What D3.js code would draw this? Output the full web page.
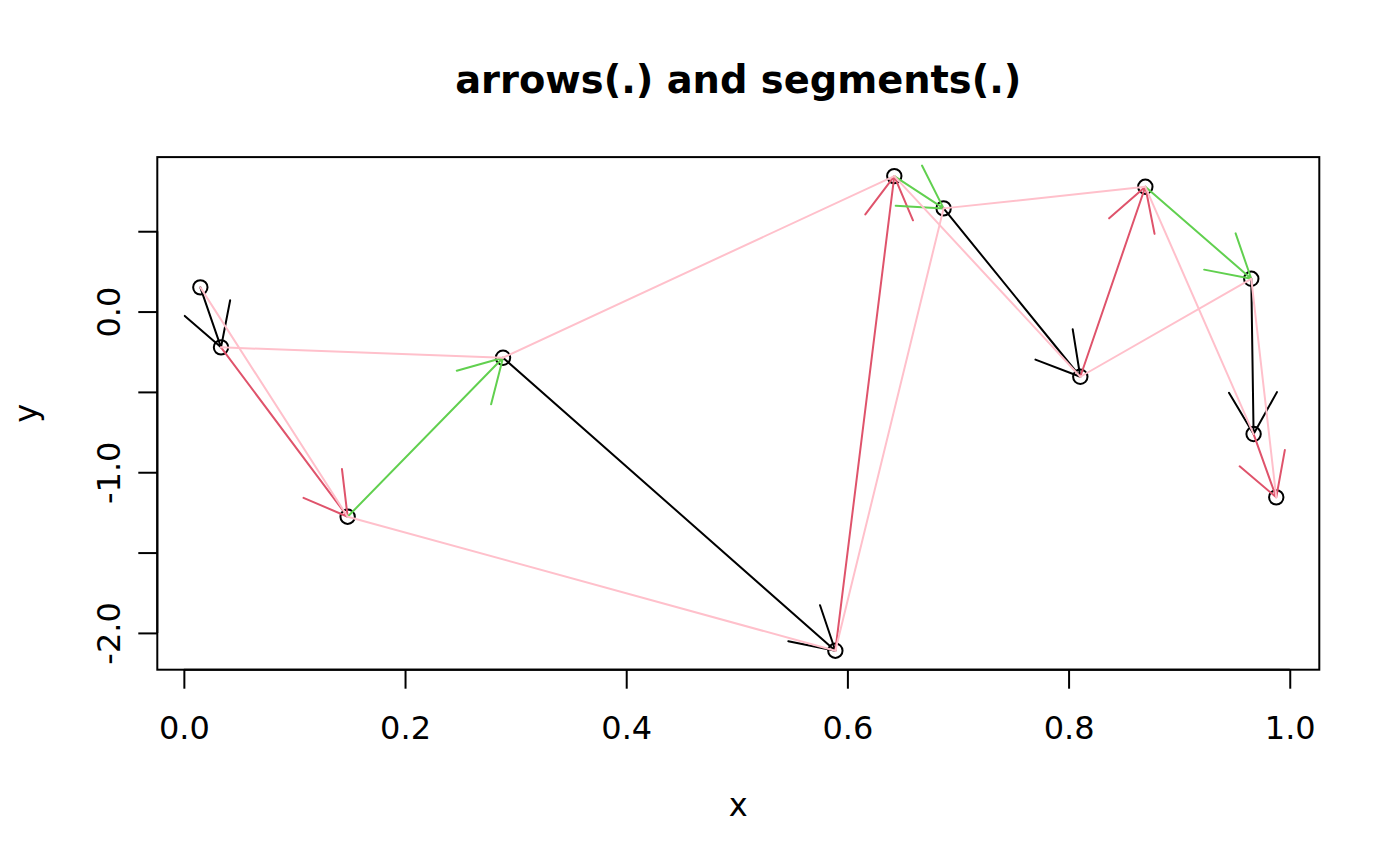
<!DOCTYPE html>
<html>
<head>
<meta charset="utf-8">
<script src="https://cdn.jsdelivr.net/npm/d3@7"></script>
<style>
  html, body { margin: 0; padding: 0; background: #fff; }
  svg { display: block; }
  text { font-family: "DejaVu Sans", sans-serif; fill: #000; }
</style>
</head>
<body>
<svg id="chart" width="1400" height="866"></svg>
<script>
// ---- data ----
const xs = [0.0149, 0.0336, 0.1481, 0.2886, 0.5891, 0.6424, 0.6870, 0.8106, 0.8694, 0.9652, 0.9673, 0.9878];
const ys = [0.1506, -0.2228, -1.2769, -0.2875, -2.1108, 0.8432, 0.6422, -0.4057, 0.7766, 0.2041, -0.7623, -1.1562];
const arrowColors = ["#000000", "#DF536B", "#61D04F"];   // col = 1:3 (recycled)
const segmentColor = "#FFC0CB";                            // 'pink'
const xTicks = [0, 0.2, 0.4, 0.6, 0.8, 1.0];
const xTickLabels = ["0.0", "0.2", "0.4", "0.6", "0.8", "1.0"];
const yTicks = [-2, -1.5, -1, -0.5, 0, 0.5];
const yTickLabels = ["-2.0", "", "-1.0", "", "0.0", ""];
const titleText = "arrows(.) and segments(.)";
const xLabel = "x", yLabel = "y";

// ---- layout ----
const plot = { left: 157.3, right: 1319.3, top: 157.1, bottom: 669.7 };
const ext = (a) => { const [lo, hi] = d3.extent(a); const d = (hi - lo) * 0.04; return [lo - d, hi + d]; };
const x = d3.scaleLinear().domain(ext(xs)).range([plot.left, plot.right]);
const y = d3.scaleLinear().domain(ext(ys)).range([plot.bottom, plot.top]);

const svg = d3.select("#chart");
const pts = xs.map((v, i) => ({ x: v, y: ys[i] }));

// points (pch = 1)
svg.append("g").selectAll("circle").data(pts).join("circle")
  .attr("cx", d => x(d.x)).attr("cy", d => y(d.y)).attr("r", 7.2)
  .attr("fill", "none").attr("stroke", "#000").attr("stroke-width", 2);

// arrows from point i to i+1
const headLen = 48, headAng = Math.PI / 6;
const arrows = d3.range(pts.length - 1).map(i => ({ a: pts[i], b: pts[i + 1], col: arrowColors[i % 3] }));
const ga = svg.append("g").attr("fill", "none").attr("stroke-width", 2)
  .attr("stroke-linecap", "round").attr("stroke-linejoin", "round");
ga.selectAll("path").data(arrows).join("path")
  .attr("stroke", d => d.col)
  .attr("d", d => {
    const x0 = x(d.a.x), y0 = y(d.a.y), x1 = x(d.b.x), y1 = y(d.b.y);
    const th = Math.atan2(y0 - y1, x0 - x1);
    const h1 = [x1 + headLen * Math.cos(th + headAng), y1 + headLen * Math.sin(th + headAng)];
    const h2 = [x1 + headLen * Math.cos(th - headAng), y1 + headLen * Math.sin(th - headAng)];
    return `M${x0},${y0}L${x1},${y1}M${h1[0]},${h1[1]}L${x1},${y1}L${h2[0]},${h2[1]}`;
  });

// segments from point i to i+2
const segs = d3.range(pts.length - 2).map(i => ({ a: pts[i], b: pts[i + 2] }));
svg.append("g").selectAll("line").data(segs).join("line")
  .attr("x1", d => x(d.a.x)).attr("y1", d => y(d.a.y))
  .attr("x2", d => x(d.b.x)).attr("y2", d => y(d.b.y))
  .attr("stroke", segmentColor).attr("stroke-width", 2).attr("stroke-linecap", "round");

// box
svg.append("rect").attr("x", plot.left).attr("y", plot.top)
  .attr("width", plot.right - plot.left).attr("height", plot.bottom - plot.top)
  .attr("fill", "none").attr("stroke", "#000").attr("stroke-width", 2);

// x axis
const xAxis = d3.axisBottom(x).tickValues(xTicks).tickSize(19).tickPadding(0)
  .tickFormat((d, i) => xTickLabels[i]);
const gx = svg.append("g").attr("transform", `translate(0,${plot.bottom})`).call(xAxis);
gx.select(".domain").attr("d", `M${x(xTicks[0])},0H${x(xTicks[xTicks.length - 1])}`).attr("stroke-width", 2);
gx.selectAll(".tick line").attr("stroke-width", 2);
gx.selectAll(".tick text").attr("font-size", 32).attr("font-family", "DejaVu Sans")
  .attr("dy", null).attr("y", 739.5 - plot.bottom);

// y axis
const yAxis = d3.axisLeft(y).tickValues(yTicks).tickSize(19).tickPadding(0)
  .tickFormat((d, i) => yTickLabels[i]);
const gy = svg.append("g").attr("transform", `translate(${plot.left},0)`).call(yAxis);
gy.select(".domain").attr("d", `M0,${y(yTicks[0])}V${y(yTicks[yTicks.length - 1])}`).attr("stroke-width", 2);
gy.selectAll(".tick line").attr("stroke-width", 2);
gy.selectAll(".tick text").attr("font-size", 32).attr("font-family", "DejaVu Sans")
  .attr("x", null).attr("dy", null).attr("text-anchor", "middle")
  .attr("transform", `translate(${119.6 - plot.left},0) rotate(-90)`);

// title and axis labels
svg.append("text").attr("x", (plot.left + plot.right) / 2).attr("y", 93)
  .attr("text-anchor", "middle").attr("font-size", 38.4).attr("font-weight", "bold").text(titleText);
svg.append("text").attr("x", (plot.left + plot.right) / 2).attr("y", 816)
  .attr("text-anchor", "middle").attr("font-size", 32).text(xLabel);
svg.append("text").attr("transform", `translate(37,${(plot.top + plot.bottom) / 2}) rotate(-90)`)
  .attr("text-anchor", "middle").attr("font-size", 32).text(yLabel);
</script>
</body>
</html>
